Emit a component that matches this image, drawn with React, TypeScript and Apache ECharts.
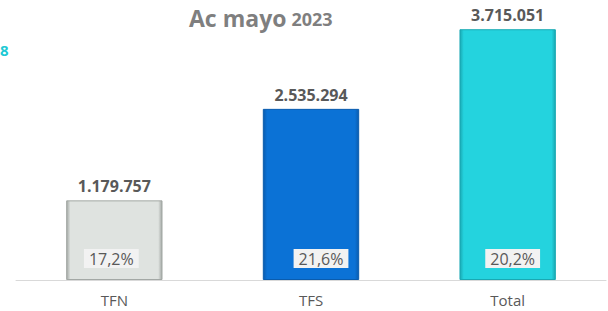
import React, { useEffect, useRef } from "react";
import * as echarts from "echarts";

const categories = ["TFN", "TFS", "Total"];
const values = [1179757, 2535294, 3715051];
const percents = ["17,2%", "21,6%", "20,2%"];
const barColors = ["#dfe3e0", "#0b72d6", "#24d3de"];
const barBorders = ["#a3a8a5", "#0a5cae", "#19a9b3"];
const pctOffsets = [-3, 10, 5];

const fmt = (v: number) => String(v).replace(/\B(?=(\d{3})+(?!\d))/g, ".");

export default function App() {
  const ref = useRef<HTMLDivElement>(null);
  useEffect(() => {
    if (!ref.current) return;
    const chart = echarts.init(ref.current, undefined, { renderer: "svg" });
    chart.setOption({
      animation: false,
      backgroundColor: "#ffffff",
      title: {
        text: "{a|Ac mayo} {b|2023}",
        left: 184,
        top: 1,
        textStyle: {
          rich: {
            a: { fontFamily: "Open Sans", fontSize: 23, fontWeight: "bold", color: "#7f7f7f" },
            b: { fontFamily: "Open Sans", fontSize: 18, fontWeight: "bold", color: "#7f7f7f", padding: [3, 0, 0, 0] },
          },
        },
      },
      graphic: [
        {
          type: "text",
          left: 0,
          top: 42,
          style: { text: "8", fill: "#20c9d4", font: "bold 15px 'Open Sans'" },
        },
      ],
      grid: { left: 16, right: 2, top: 10, bottom: 31, containLabel: false },
      xAxis: {
        type: "category",
        data: categories,
        axisLine: { show: true, lineStyle: { color: "#d9d9d9", width: 1 } },
        axisTick: { show: false },
        axisLabel: { color: "#595959", fontSize: 15, fontFamily: "Open Sans", margin: 12 },
      },
      yAxis: {
        type: "value",
        min: 0,
        max: 4000000,
        show: false,
        splitLine: { show: false },
      },
      series: [
        {
          type: "bar",
          barWidth: "49%",
          barGap: "-100%",
          z: 2,
          data: values.map((v, i) => ({
            value: v,
            itemStyle: {
              color: {
                type: "linear",
                x: 0,
                y: 0,
                x2: 1,
                y2: 0,
                colorStops: [
                  { offset: 0, color: barBorders[i] },
                  { offset: 0.04, color: barColors[i] },
                  { offset: 0.96, color: barColors[i] },
                  { offset: 1, color: barBorders[i] },
                ],
              },
              borderColor: barBorders[i],
              borderWidth: 1,
            },
          })),
          label: {
            show: true,
            position: "top",
            distance: 6,
            formatter: (p: any) => fmt(p.value),
            color: "#595959",
            fontSize: 16,
            fontWeight: "bold",
            fontFamily: "Open Sans",
          },
        },
        {
          type: "bar",
          barWidth: "49%",
          barGap: "-100%",
          z: 3,
          data: values.map((v, i) => ({
            value: v,
            label: { offset: [pctOffsets[i], 0] },
          })),
          itemStyle: { color: "rgba(0,0,0,0)" },
          label: {
            show: true,
            position: "insideBottom",
            distance: 12,
            formatter: (p: any) => percents[p.dataIndex],
            color: "#595959",
            fontSize: 16,
            fontFamily: "Open Sans",
            backgroundColor: "#f2f2f2",
            padding: [2, 5, 1, 5],
          },
        },
      ],
    });
    return () => chart.dispose();
  }, []);
  return <div ref={ref} style={{ width: 608, height: 311, position: "absolute", left: 0, top: 0 }} />;
}
